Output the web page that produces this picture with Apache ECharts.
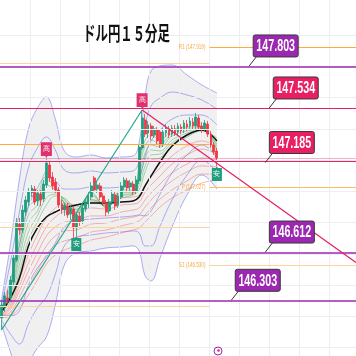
<!DOCTYPE html>
<html><head><meta charset="utf-8">
<script src="https://cdn.jsdelivr.net/npm/echarts@6/dist/echarts.min.js"></script>
<style>html,body{margin:0;padding:0;background:#fff}#c{width:356px;height:356px}</style>
</head><body><div id="c"></div>
<script>
const totalSlots = 119;
// [open, close, low, high]
const candles = [
[146.190,146.273,146.113,146.305],[146.267,146.331,146.228,146.356],[146.318,146.305,146.273,146.369],
[146.318,146.433,146.292,146.459],[146.420,146.574,146.401,146.599],[146.561,146.804,146.548,146.830],
[146.791,146.753,146.721,146.830],[146.753,146.881,146.734,146.913],[146.868,146.945,146.843,146.971],
[146.932,146.996,146.907,147.022],[146.990,147.022,146.964,147.041],[147.015,146.932,146.913,147.035],
[146.939,146.990,146.907,147.009],[146.983,146.945,146.907,147.009],[146.951,147.047,146.932,147.073],
[147.041,147.182,147.022,147.207],[147.169,147.086,147.060,147.195],[147.092,147.035,147.009,147.124],
[147.060,147.009,146.990,147.086],[147.009,146.913,146.894,147.028],[146.919,146.881,146.855,146.945],
[146.881,146.913,146.843,146.926],[146.907,146.849,146.830,146.926],[146.855,146.894,146.817,146.913],
[146.887,146.766,146.689,146.907],[146.766,146.849,146.715,146.868],[146.843,146.804,146.779,146.868],
[146.811,146.894,146.791,146.913],[146.887,146.926,146.868,146.958],[146.919,146.971,146.894,146.996],
[146.964,147.035,146.945,147.060],[147.086,147.009,146.996,147.099],[147.015,147.041,146.990,147.067],
[147.035,146.964,146.945,147.054],[146.971,146.926,146.907,146.990],[146.926,146.868,146.843,146.945],
[146.875,146.932,146.855,146.951],[146.932,146.983,146.913,147.009],[146.977,146.907,146.881,146.996],
[146.913,146.971,146.894,146.990],[146.964,147.035,146.951,147.060],[147.028,147.073,147.009,147.092],
[147.067,147.022,146.996,147.086],[147.028,147.054,147.003,147.073],[147.047,146.996,146.977,147.067],
[147.003,147.073,146.983,147.099],[147.067,147.284,147.047,147.303],[147.278,147.470,147.265,147.521],
[147.457,147.367,147.348,147.495],[147.374,147.425,147.342,147.451],[147.419,147.355,147.329,147.438],
[147.361,147.400,147.342,147.419],[147.393,147.323,147.297,147.412],[147.380,147.297,147.278,147.393],
[147.303,147.380,147.284,147.406],[147.374,147.406,147.348,147.431],[147.400,147.361,147.342,147.419],
[147.367,147.406,147.348,147.425],[147.400,147.374,147.355,147.425],[147.380,147.419,147.361,147.438],
[147.412,147.387,147.367,147.431],[147.393,147.438,147.374,147.457],[147.431,147.412,147.387,147.457],
[147.419,147.451,147.400,147.476],[147.444,147.419,147.393,147.470],[147.419,147.476,147.387,147.502],
[147.470,147.412,147.393,147.489],[147.419,147.393,147.374,147.444],[147.400,147.438,147.380,147.457],
[147.431,147.367,147.348,147.451],[147.367,147.297,147.278,147.387],[147.297,147.252,147.233,147.316],
[147.259,147.214,147.163,147.278]
];
// indicator lines read at these candle indices
const sampleIdx = [0,3,6,9,12,15,18,21,25,30,35,40,44,46,48,50,53,57,62,67,72];
const bbMid    = [146.228,146.318,146.446,146.651,146.766,146.836,146.868,146.894,146.913,146.926,146.926,146.932,146.939,146.964,147.035,147.099,147.188,147.291,147.361,147.393,147.323];
const bbUpper1 = [146.254,146.433,146.657,146.900,147.022,147.092,147.067,147.015,147.015,147.028,147.022,147.028,147.035,147.079,147.227,147.323,147.393,147.463,147.489,147.489,147.425];
const bbUpper2 = [146.279,146.548,146.868,147.150,147.278,147.348,147.265,147.137,147.118,147.131,147.118,147.124,147.131,147.195,147.419,147.547,147.598,147.636,147.617,147.585,147.527];
const bbUpper3 = [146.305,146.663,147.079,147.399,147.534,147.604,147.463,147.259,147.220,147.233,147.214,147.220,147.227,147.310,147.611,147.771,147.803,147.809,147.745,147.681,147.630];
const bbLower1 = [146.203,146.203,146.235,146.401,146.510,146.580,146.670,146.772,146.811,146.823,146.830,146.836,146.843,146.849,146.843,146.875,146.983,147.118,147.233,147.297,147.220];
const bbLower2 = [146.177,146.087,146.023,146.151,146.254,146.324,146.471,146.651,146.708,146.721,146.734,146.740,146.747,146.734,146.651,146.651,146.779,146.945,147.105,147.201,147.118];
const bbLower3 = [146.151,145.972,145.812,145.902,145.998,146.068,146.273,146.529,146.606,146.619,146.638,146.644,146.651,146.619,146.459,146.427,146.574,146.772,146.977,147.105,147.015];
const gmmaShort1 = [146.254,146.401,146.702,146.958,146.983,147.124,147.035,146.919,146.849,146.996,146.894,147.009,147.009,147.169,147.329,147.361,147.329,147.393,147.412,147.406,147.252];
const gmmaShort2 = [146.247,146.382,146.657,146.907,146.945,147.079,147.022,146.926,146.862,146.983,146.900,146.996,147.003,147.137,147.291,147.329,147.303,147.374,147.399,147.399,147.271];
const gmmaShort3 = [146.241,146.356,146.612,146.849,146.913,147.041,147.009,146.932,146.868,146.971,146.907,146.990,146.996,147.105,147.246,147.297,147.284,147.355,147.387,147.399,147.291];
const gmmaShort4 = [146.241,146.337,146.574,146.798,146.875,146.996,146.996,146.945,146.881,146.951,146.907,146.977,146.990,147.073,147.207,147.265,147.259,147.329,147.374,147.393,147.303];
const gmmaShort5 = [146.235,146.311,146.529,146.740,146.843,146.958,146.983,146.951,146.887,146.939,146.913,146.971,146.983,147.041,147.163,147.233,147.239,147.310,147.361,147.393,147.323];
const gmmaShort6 = [146.228,146.292,146.484,146.689,146.804,146.913,146.971,146.958,146.900,146.926,146.919,146.958,146.977,147.009,147.124,147.201,147.214,147.291,147.348,147.387,147.342];
const gmmaLong1 = [146.215,146.273,146.433,146.593,146.721,146.830,146.894,146.926,146.913,146.945,146.932,146.958,146.964,146.977,147.041,147.092,147.150,147.227,147.291,147.323,147.284];
const gmmaLong2 = [146.209,146.260,146.395,146.542,146.663,146.772,146.836,146.868,146.862,146.894,146.887,146.913,146.919,146.932,146.996,147.041,147.099,147.175,147.233,147.271,147.239];
const gmmaLong3 = [146.203,146.247,146.363,146.491,146.606,146.715,146.772,146.804,146.811,146.843,146.843,146.868,146.881,146.894,146.945,146.990,147.047,147.118,147.175,147.214,147.201];
const gmmaLong4 = [146.203,146.228,146.324,146.439,146.548,146.651,146.715,146.747,146.753,146.791,146.798,146.823,146.836,146.849,146.900,146.945,147.003,147.067,147.124,147.163,147.156];
const gmmaLong5 = [146.196,146.215,146.292,146.388,146.491,146.593,146.657,146.683,146.702,146.740,146.753,146.779,146.798,146.811,146.849,146.894,146.951,147.009,147.067,147.111,147.111];
const gmmaLong6 = [146.190,146.203,146.254,146.337,146.433,146.535,146.593,146.625,146.651,146.689,146.708,146.734,146.753,146.766,146.804,146.843,146.900,146.958,147.009,147.054,147.073];
// horizontal levels
const purpleLevels = [147.803, 146.612, 146.303];
const redLevels = [147.534, 147.185];
const pivotPrevLevels = [147.822, 147.303, 146.772, 146.267];
const pivotCurLevels = [147.924, 147.027, 146.530];
const pivotCurNames = ['R1 (147.919)', 'P (147.027)', 'S1 (146.530)'];
const pivotSplitIdx = 69.5;
const gridPrices = [146.0,146.2,146.4,146.6,146.8,147.0,147.2,147.4,147.6,147.8,148.0];
const gridIdx = [9.5,19.5,29.5,39.5,49.5,59.5,69.5,79.5,89.5,99.5,109.5];
// callouts: value, colour, anchor candle index
const calloutValues = [147.803, 147.534, 147.185, 146.612, 146.303];
const calloutColors = ['#9c27b0','#e91e63','#e91e63','#9c27b0','#9c27b0'];
const calloutIdx = [82.8, 89.5, 88.2, 88.2, 76.8];
// zigzag trend lines [idx, price]
const upTrend = [[0, 146.113], [47, 147.521]];
const downTrend = [[47, 147.521], [118.5, 146.545]];
// markers
const highMarks = [[15, 147.207], [47, 147.521]];
const lowMarks = [[25, 146.715], [72, 147.163]];

const chart = echarts.init(document.getElementById('c'), null, {renderer:'canvas'});
const pts = arr => sampleIdx.map((x,i)=>[x, arr[i]]);
const SM = 0.4;
function ln(arr, color, width, opacity, z){
  return {type:'line', xAxisIndex:1, yAxisIndex:0, data:pts(arr), smooth:SM, symbol:'none', silent:true,
    lineStyle:{color, width, opacity}, z: z||2};
}
const cats = Array.from({length: totalSlots}, (_, i) => String(i));
const series = [];
series.push({type:'line', xAxisIndex:1, data:pts(bbUpper3), smooth:SM, symbol:'none', silent:true,
  lineStyle:{opacity:0}, areaStyle:{color:'#f0f0f0', opacity:1, origin:'start'}, z:1});
series.push({type:'line', xAxisIndex:1, data:pts(bbLower3), smooth:SM, symbol:'none', silent:true,
  lineStyle:{opacity:0}, areaStyle:{color:'#ffffff', opacity:1, origin:'start'}, z:1});
// grid
series.push({type:'line', xAxisIndex:1, data:[], silent:true, z:1,
  markLine:{silent:true, symbol:['none','none'], label:{show:false}, animation:false,
    lineStyle:{color:'#eceef2', width:1, type:'solid'},
    data: gridPrices.map(v=>({yAxis:v})).concat(gridIdx.map(v=>({xAxis:v})))}});
const bbColor = '#7f7ff2';
[bbUpper1,bbUpper2,bbUpper3,bbLower1,bbLower2,bbLower3].forEach(a=>series.push(ln(a,bbColor,0.8,0.8)));
[gmmaLong1,gmmaLong2,gmmaLong3,gmmaLong4,gmmaLong5,gmmaLong6].forEach(a=>series.push(ln(a,'#f44336',0.7,0.55)));
[gmmaShort1,gmmaShort2,gmmaShort3,gmmaShort4,gmmaShort5,gmmaShort6].forEach(a=>series.push(ln(a,'#3aa048',0.7,0.6)));
series.push(ln(bbMid,'#111111',1.5,1,3));
// levels & trend lines
const mlData = [];
pivotPrevLevels.forEach((v,i)=>mlData.push([{coord:[-0.5,v], lineStyle:{color: i===1?'#ffa940':'#ffd3a0', width:1.2}},{coord:[pivotSplitIdx,v]}]));
pivotCurLevels.forEach((v,i)=>mlData.push([{coord:[pivotSplitIdx,v], lineStyle:{color: i===0?'#ffa940':(i===1?'#ffbb66':'#ffd3a0'), width:1.2}},{coord:[118.5,v]}]));
mlData.push({yAxis:147.214, lineStyle:{color:'rgba(233,30,99,0.35)', width:1}});
redLevels.forEach(v=>mlData.push({yAxis:v, lineStyle:{color:'#e91e63', width:1.2}}));
purpleLevels.forEach(v=>mlData.push({yAxis:v, lineStyle:{color:'#9c27b0', width:1.5}}));
mlData.push([{coord:upTrend[0], lineStyle:{color:'#26a68a', width:1.2}},{coord:upTrend[1]}]);
mlData.push([{coord:downTrend[0], lineStyle:{color:'#e91e63', width:1.2}},{coord:downTrend[1]}]);
series.push({type:'line', xAxisIndex:1, data:[], silent:true, z:3,
  markLine:{silent:true, symbol:['none','none'], label:{show:false}, animation:false, lineStyle:{type:'solid'}, data: mlData}});
const highPath = 'path://M0,0 H10 V12 H6 L5,14 L4,12 H0 Z';
const lowPath = 'path://M0,2 H4 L5,0 L6,2 H10 V14 H0 Z';
series.push({type:'candlestick', xAxisIndex:0, yAxisIndex:0, data:candles, barWidth:2.4, z:4, silent:true,
  itemStyle:{color:'#1f9e7f', color0:'#f23645', borderColor:'#1f9e7f', borderColor0:'#f23645', borderWidth:0.8},
  markPoint:{silent:true, animation:false, data:
    highMarks.map(c=>({coord:c, symbol:highPath, symbolSize:[11,16], symbolOffset:[0,'-55%'],
      itemStyle:{color:'#e0306e'}, label:{show:true, formatter:'高', color:'#fff', fontSize:7, offset:[0,-1]}}))
    .concat(lowMarks.map(c=>({coord:c, symbol:lowPath, symbolSize:[10,15], symbolOffset:[0,'50%'],
      itemStyle:{color:'#1f9e7f'}, label:{show:true, formatter:'安', color:'#fff', fontSize:7, offset:[0,1]}})))
  }});

chart.setOption({
  animation:false,
  grid:{left:0,right:0,top:0,bottom:0},
  xAxis:[
    {type:'category', data:cats, show:false, boundaryGap:true},
    {type:'value', min:-0.5, max:totalSlots-0.5, show:false}
  ],
  yAxis:[{type:'value', min:145.9466, max:148.225, show:false, scale:true}],
  series
});

const g = [];
g.push({type:'text', x:126.5, y:33, scaleX:0.62, z:100, style:{text:'ドル円１５分足', font:'bold 20px "Noto Sans CJK JP"',
  fill:'#111', align:'center', verticalAlign:'middle', textAlign:'center', textVerticalAlign:'middle'}});
pivotCurLevels.forEach((v,i)=>{
  const p = chart.convertToPixel({xAxisIndex:1, yAxisIndex:0}, [pivotSplitIdx, v]);
  g.push({type:'text', x:p[0]-4, y:p[1], scaleX:0.65, z:100, style:{text:pivotCurNames[i], font:'7px "Liberation Sans"',
    fill:'#f5a742', align:'right', verticalAlign:'middle', textAlign:'right', textVerticalAlign:'middle'}});
});
calloutValues.forEach((v,i)=>{
  const p = chart.convertToPixel({xAxisIndex:1, yAxisIndex:0}, [calloutIdx[i], v]);
  const bx = p[0]+4, bb = p[1]-9, w = 45, h = 22;
  g.push({type:'line', z:100, shape:{x1:p[0], y1:p[1], x2:p[0]+7, y2:bb}, style:{stroke:'#333', lineWidth:1}});
  g.push({type:'rect', z:101, shape:{x:bx, y:bb-h, width:w, height:h, r:2}, style:{fill:calloutColors[i], stroke:'#3a3a3a', lineWidth:1}});
  g.push({type:'text', z:102, x:bx+w/2, y:bb-h/2+0.5, scaleX:0.63, style:{text:v.toFixed(3), font:'bold 17px "Liberation Sans"',
    fill:'#fff', align:'center', verticalAlign:'middle', textAlign:'center', textVerticalAlign:'middle'}});
});
g.push({type:'circle', z:100, shape:{cx:218, cy:351, r:4}, style:{fill:'#fff', stroke:'#9c27b0', lineWidth:1}});
g.push({type:'circle', z:101, shape:{cx:218.5, cy:350.5, r:1.3}, style:{fill:'#e91e63'}});
chart.setOption({graphic:g});
</script>
</body></html>
